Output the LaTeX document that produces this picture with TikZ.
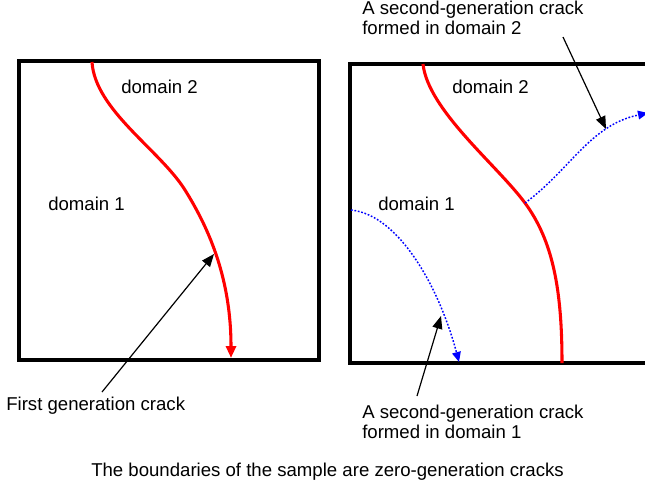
\documentclass[tikz,border=0pt]{standalone}
\usepackage{fontspec}
\setmainfont{Liberation Sans}
\usetikzlibrary{arrows.meta}
\begin{document}
\begin{tikzpicture}[x=0.75pt,y=-0.75pt,
  every node/.style={inner sep=0pt,font=\fontsize{13.95}{15}\selectfont},
  boxline/.style={line width=2.5pt,black},
  redcrack/.style={line width=2.3pt,red},
  bluecrack/.style={line width=1.1pt,blue,dash pattern=on 1.3pt off 1.3pt},
  pointer/.style={line width=0.9pt,black,-{Triangle[length=9.5pt,width=7.5pt]}},
  lbl/.style={anchor=base west},
  multi/.style={anchor=north west,align=left}]
\useasboundingbox (0,0) rectangle (645,487);
\clip (0,0) rectangle (645,487);
% left box
\draw[boxline] (19,61) rectangle (319,360);
% right box (cut off at right)
\draw[boxline] (660,64) -- (350,64) -- (350,363) -- (660,363);
% red cracks
\draw[redcrack,-{Triangle[length=9pt,width=7.5pt]}] (92,62) .. controls (95,110) and (160,150) .. (185,190) .. controls (210,230) and (231,280) .. (231,358);
\coordinate (c1) at (214,254);
\draw[redcrack] (423,64) .. controls (428,110) and (497,165) .. (525,203) .. controls (553,241) and (562,290) .. (562,363);
% blue cracks
\draw[bluecrack,-{Triangle[length=7.5pt,width=6.5pt]}] (351,210) .. controls (400,215) and (440,290) .. (459,362);
\draw[bluecrack,-{Triangle[length=7.5pt,width=6.5pt]}] (525,203) .. controls (570,170) and (590,125) .. (648,113);
% labels
\node[lbl] (d2l) at (121,93) {domain 2};
\node[lbl] (d1l) at (48,210) {domain 1};
\node[lbl] (d2r) at (452,93) {domain 2};
\node[lbl] (d1r) at (378,210) {domain 1};
\node[lbl] (fg) at (6,410) {First generation crack};
\node[multi] (s2) at (362,1) {A second-generation crack\\formed in domain 2};
\node[multi] (s1) at (362,405) {A second-generation crack\\formed in domain 1};
\node[anchor=base] (cap) at (327.5,476) {The boundaries of the sample are zero-generation cracks};
% pointers
\coordinate (p1s) at (102,392);
\coordinate (p2s) at (563,37);
\coordinate (p2e) at (606,129);
\coordinate (p3s) at (417,396);
\coordinate (p3e) at (441,316);
\draw[pointer] (p1s) -- (c1);
\draw[pointer] (p2s) -- (p2e);
\draw[pointer] (p3s) -- (p3e);
\end{tikzpicture}
\end{document}
